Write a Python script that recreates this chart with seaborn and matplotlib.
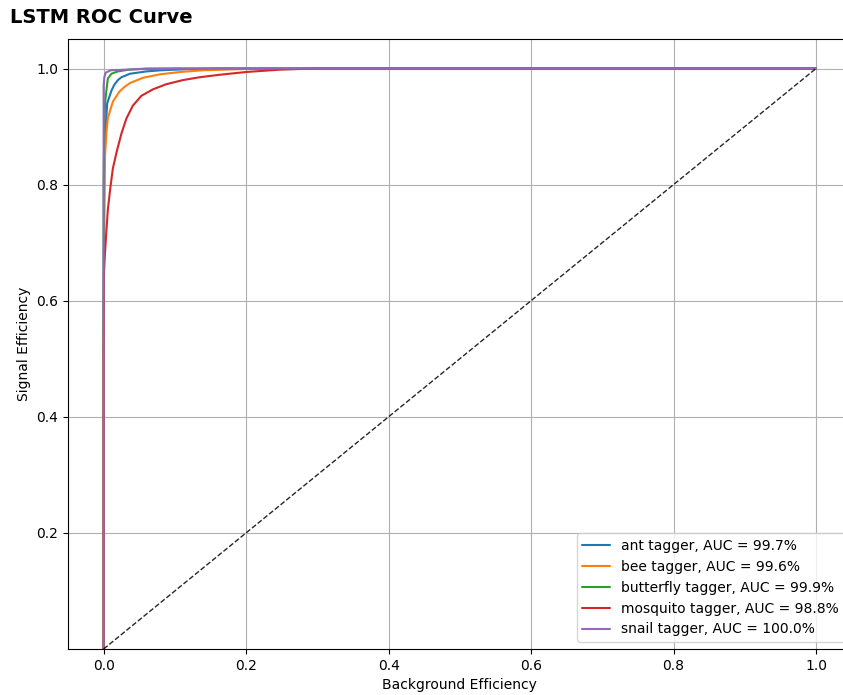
import matplotlib
matplotlib.use("Agg")
import matplotlib.pyplot as plt
import seaborn as sns
import pandas as pd

# ROC points per tagger: background efficiency (fpr) vs signal efficiency (tpr)
taggers = ["ant", "bee", "butterfly", "mosquito", "snail"]
auc_pct = [99.7, 99.6, 99.9, 98.8, 100.0]

ant_fpr = [0, 0.0, 0.001, 0.003, 0.005, 0.011, 0.015, 0.02, 0.025, 0.037, 0.06, 0.081, 0.12, 0.16, 1.0]
ant_tpr = [0, 0.6, 0.85, 0.9, 0.94, 0.962, 0.972, 0.98, 0.985, 0.991, 0.995, 0.997, 0.999, 1.0, 1.0]

bee_fpr = [0, 0.0, 0.001, 0.002, 0.004, 0.006, 0.013, 0.022, 0.029, 0.037, 0.055, 0.079, 0.107, 0.14, 0.22, 1.0]
bee_tpr = [0, 0.5, 0.75, 0.85, 0.89, 0.915, 0.943, 0.96, 0.968, 0.975, 0.984, 0.99, 0.994, 0.997, 1.0, 1.0]

butterfly_fpr = [0, 0.0, 0.001, 0.002, 0.004, 0.006, 0.011, 0.02, 0.035, 0.06, 1.0]
butterfly_tpr = [0, 0.8, 0.9, 0.94, 0.963, 0.983, 0.991, 0.995, 0.998, 1.0, 1.0]

mosquito_fpr = [0, 0.0, 0.0005, 0.0014, 0.0038, 0.006, 0.0098, 0.013, 0.018, 0.025, 0.032,
                0.041, 0.053, 0.069, 0.088, 0.111, 0.135, 0.161, 0.2, 0.247, 0.294, 1.0]
mosquito_tpr = [0, 0.5, 0.65, 0.672, 0.718, 0.758, 0.798, 0.828, 0.855, 0.888, 0.914,
                0.936, 0.953, 0.964, 0.973, 0.98, 0.985, 0.989, 0.994, 0.998, 1.0, 1.0]

snail_fpr = [0, 0.0, 0.001, 0.003, 0.01, 0.05, 0.1, 1.0]
snail_tpr = [0, 0.97, 0.985, 0.993, 0.997, 0.999, 1.0, 1.0]

x_ticks = [0.0, 0.2, 0.4, 0.6, 0.8, 1.0]
y_ticks = [0.2, 0.4, 0.6, 0.8, 1.0]

curves = {
    "ant": (ant_fpr, ant_tpr),
    "bee": (bee_fpr, bee_tpr),
    "butterfly": (butterfly_fpr, butterfly_tpr),
    "mosquito": (mosquito_fpr, mosquito_tpr),
    "snail": (snail_fpr, snail_tpr),
}

rows = []
for name, auc in zip(taggers, auc_pct):
    label = f"{name} tagger, AUC = {auc:.1f}%"
    fpr, tpr = curves[name]
    for i, (f, t) in enumerate(zip(fpr, tpr)):
        rows.append({"label": label, "order": i, "fpr": f, "tpr": t})
df = pd.DataFrame(rows)

sns.set_style("ticks", {"axes.grid": True, "grid.color": "#b0b0b0",
                        "axes.edgecolor": "black", "xtick.color": "black",
                        "ytick.color": "black", "text.color": "black",
                        "axes.labelcolor": "black"})
plt.rcParams["font.family"] = ["DejaVu Sans"]

fig = plt.figure(figsize=(8.43, 6.95), dpi=100)
ax = fig.add_axes([68 / 843, 46 / 695, 783.6 / 843, 609.5 / 695])

palette = sns.color_palette("tab10", len(taggers))
sns.lineplot(data=df, x="fpr", y="tpr", hue="label", units="label", estimator=None,
             sort=False, palette=palette, linewidth=1.5, ax=ax)
ax.plot([0, 1], [0, 1], "k--", linewidth=1, alpha=0.85)

ax.set_xlim(-0.05, 1.05)
ax.set_ylim(0.0, 1.05)
ax.set_xticks(x_ticks)
ax.set_yticks(y_ticks)
ax.grid(True, color="#b0b0b0", linewidth=0.8)
ax.set_xlabel("Background Efficiency", fontsize=10)
ax.set_ylabel("Signal Efficiency", fontsize=10)
ax.tick_params(labelsize=10)
ax.legend(loc="lower right", fontsize=10, title=None)

fig.text(10 / 843, 1 - 23 / 695, "LSTM ROC Curve", fontsize=14, fontweight="bold",
         ha="left", va="baseline")

fig.savefig("out.png", dpi=100)
